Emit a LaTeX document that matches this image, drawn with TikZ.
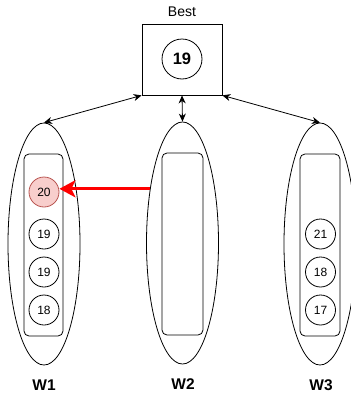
\documentclass[tikz,border=0pt]{standalone}
\usepackage{fontspec}
\setmainfont{Liberation Sans}
\usetikzlibrary{shapes.geometric,arrows.meta}
\definecolor{pinkfill}{HTML}{F8CECC}
\definecolor{pinkline}{HTML}{B85450}
\begin{document}
\begin{tikzpicture}[x=1pt,y=-1pt,
  worker/.style={draw,ellipse,minimum width=72pt,minimum height=242pt,inner sep=0pt,line width=0.8pt},
  queue/.style={draw,rounded corners=5pt,line width=0.8pt},
  num/.style={draw,circle,minimum size=30pt,inner sep=0pt,line width=0.8pt,font=\fontsize{12}{14}\selectfont},
  lab/.style={font=\fontsize{15.5}{17}\selectfont\bfseries,inner sep=0pt},
  conn/.style={line width=0.8pt,{Stealth[length=8pt,width=7pt,inset=2.5pt]}-{Stealth[length=8pt,width=7pt,inset=2.5pt]}},
  steal/.style={draw=red,line width=3pt,-{Stealth[length=16pt,width=17pt,inset=4pt]}}
  ]
\useasboundingbox (0,0) rectangle (351,394);
\clip (0,0) rectangle (351,394);
% Best box
\node[draw,line width=0.8pt,minimum width=80pt,minimum height=71pt,inner sep=0pt] (best) at (182,59.5) {};
\node[draw,circle,minimum size=40pt,inner sep=0pt,line width=0.8pt,font=\fontsize{16.5}{18}\selectfont\bfseries] (b19) at (182,59) {19};
\node[font=\fontsize{14}{16}\selectfont,inner sep=0pt] (bestlab) at (182,12) {Best};
% workers
\node[worker] (w1) at (44,244) {};
\node[worker] (w2) at (182.5,243) {};
\node[worker] (w3) at (320,244) {};
% queues
\node[queue,minimum width=39pt,minimum height=182pt,inner sep=0pt] (q1) at (43.5,245) {};
\node[queue,minimum width=41pt,minimum height=182pt,inner sep=0pt] (q2) at (182.5,244) {};
\node[queue,minimum width=40pt,minimum height=182pt,inner sep=0pt] (q3) at (320,245) {};
% W1 items
\node[num,fill=pinkfill,draw=pinkline] (c20) at (44,192) {20};
\node[num] (c19a) at (44,234) {19};
\node[num] (c19b) at (44,272) {19};
\node[num] (c18a) at (44,310) {18};
% W3 items
\node[num] (c21) at (320.5,234) {21};
\node[num] (c18b) at (320.5,272) {18};
\node[num] (c17) at (320.5,310) {17};
% labels
\node[lab] (l1) at (44,385) {W1};
\node[lab] (l2) at (183,384) {W2};
\node[lab] (l3) at (321,385) {W3};
% connectors
\draw[conn] (best.south west) -- (w1.north);
\draw[conn] (best.south) -- (w2.north);
\draw[conn] (best.south east) -- (w3.north);
\draw[steal] (w2.121.7) -- (w2.121.7 -| c20.east);
\end{tikzpicture}
\end{document}
